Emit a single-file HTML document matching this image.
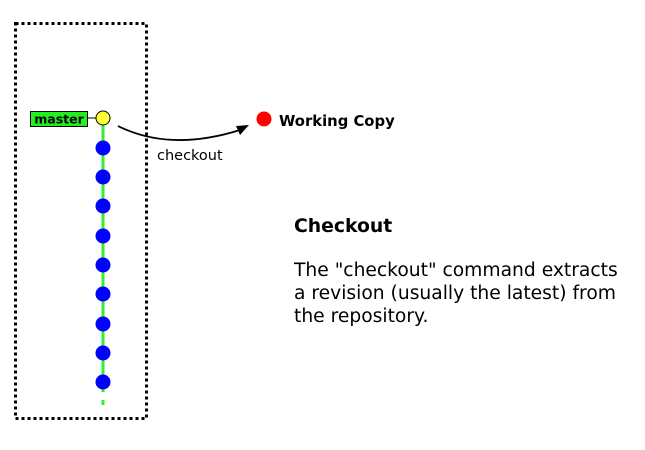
<!DOCTYPE html>
<html><head><style>
body{margin:0;background:#fff;width:645px;height:445px;overflow:hidden}
svg{font-family:"DejaVu Sans","Liberation Sans",sans-serif}
</style></head><body>
<svg width="645" height="445" viewBox="0 0 645 445">
<rect x="15.5" y="23.5" width="131" height="395" fill="none" stroke="#000" stroke-width="3" stroke-dasharray="3,3"/>
<line x1="103" y1="118" x2="103" y2="392" stroke="#33ee33" stroke-width="3"/>
<line x1="103" y1="400" x2="103" y2="405" stroke="#33ee33" stroke-width="3"/>
<line x1="88" y1="118" x2="96" y2="118" stroke="#000" stroke-width="1"/>
<rect x="30.5" y="111.5" width="57" height="15" fill="#22ee22" stroke="#000" stroke-width="1"/>
<text x="59" y="123.5" font-size="12.5" font-weight="bold" text-anchor="middle">master</text>
<circle cx="103" cy="118" r="7" fill="#ffff33" stroke="#000" stroke-width="1"/>
<g fill="#0000ff">
<circle cx="103" cy="148" r="7.5"/><circle cx="103" cy="177" r="7.5"/><circle cx="103" cy="206" r="7.5"/>
<circle cx="103" cy="236" r="7.5"/><circle cx="103" cy="265" r="7.5"/><circle cx="103" cy="294" r="7.5"/>
<circle cx="103" cy="324" r="7.5"/><circle cx="103" cy="353" r="7.5"/><circle cx="103" cy="382" r="7.5"/>
</g>
<path d="M118 126 Q170 152 240 130" fill="none" stroke="#000" stroke-width="1.8"/>
<polygon points="249,125 236,126 240,135" fill="#000"/>
<text x="157" y="160" font-size="14.5">checkout</text>
<circle cx="264" cy="119" r="7.5" fill="#ff0000"/>
<text x="279" y="126" font-size="14.8" font-weight="bold">Working Copy</text>
<text x="294" y="232" font-size="18.8" font-weight="bold">Checkout</text>
<text x="294" y="276" font-size="18.7">The "checkout" command extracts</text>
<text x="294" y="299" font-size="18.7">a revision (usually the latest) from</text>
<text x="294" y="322" font-size="18.7">the repository.</text>
</svg>
</body></html>
